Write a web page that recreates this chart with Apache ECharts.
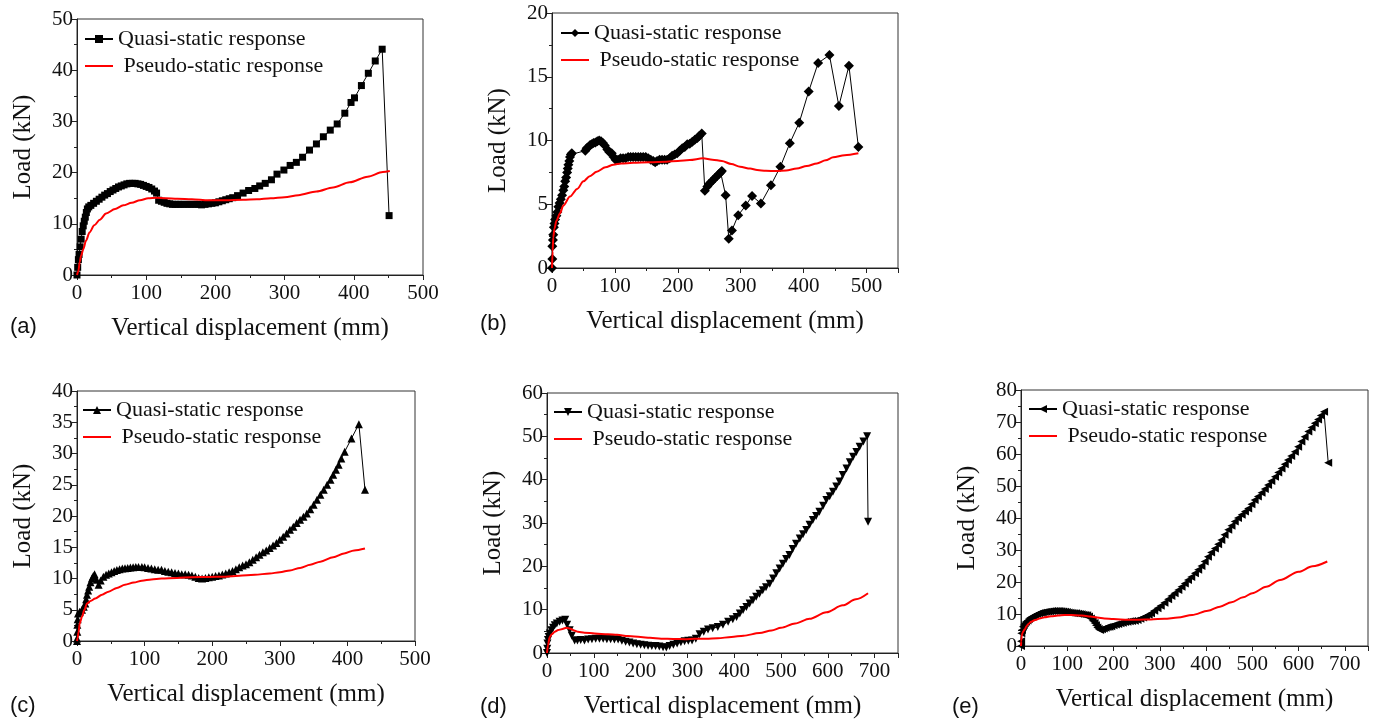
<!DOCTYPE html>
<html><head><meta charset="utf-8">
<script src="https://cdn.jsdelivr.net/npm/echarts@6/dist/echarts.min.js"></script>
<style>html,body{margin:0;padding:0;background:#fff}#c{width:1376px;height:725px}</style>
</head><body><div id="c"></div>
<script>
const QUASI = 'Quasi-static response';
const PSEUDO = 'Pseudo-static response';
const panelLabels = ['(a)', '(b)', '(c)', '(d)', '(e)'];
const xName = 'Vertical displacement (mm)';
const yName = 'Load (kN)';
const xMax = [500, 550, 500, 750, 750];
const yMax = [50, 20, 40, 60, 80];
const yInterval = [10, 5, 5, 10, 10];

const quasiA = [[0,0],[1,1.5],[2,3],[3,4],[4.5,5.5],[6,7],[7.5,8.5],[9,9.6],[10.5,10.5],[12,11.3],[13.5,12.2],[15,12.9],[17,13.3],[20,13.6],[24,14],[28,14.4],[32,14.8],[36,15.2],[40,15.6],[44,15.9],[48,16.3],[52,16.6],[56,16.9],[60,17.2],[64,17.4],[68,17.6],[72,17.8],[76,17.9],[80,17.9],[84,17.9],[88,17.8],[92,17.7],[96,17.5],[100,17.3],[104,17.1],[108,16.8],[112,16.4],[115,16.0],[118,14.6],[122,14.4],[126,14.2],[130,14.0],[134,13.9],[138,13.8],[142,13.8],[146,13.8],[150,13.8],[155,13.8],[160,13.8],[165,13.8],[170,13.8],[175,13.8],[180,13.7],[185,13.8],[190,13.9],[195,14.0],[200,14.1],[205,14.3],[210,14.5],[215,14.7],[220,14.9],[225,15.1],[232,15.5],[240,16.0],[248,16.5],[257,16.9],[264,17.4],[272,17.9],[281,18.6],[289,19.7],[299,20.5],[308,21.4],[317,22.0],[326,23.0],[336,24.4],[346,25.6],[356,27.0],[366,28.3],[376,29.5],[387,31.6],[396,33.7],[401,34.6],[411,37.0],[421,39.4],[431,41.8],[441,44.1],[451,11.6]];
const pseudoA = [[0,0],[2,0.8],[4,2.6],[6,3.8],[9,5],[13,6.7],[18,8.3],[25,9.7],[33,10.8],[42,12],[55,12.9],[67,13.6],[79,14.1],[91,14.6],[103,15.0],[115,15.1],[128,15.0],[145,14.9],[166,14.8],[190,14.6],[214,14.6],[240,14.7],[260,14.8],[280,15.0],[300,15.2],[320,15.6],[346,16.3],[370,17.1],[394,18.1],[420,19.2],[442,20.1],[452,20.3]];

const quasiB = [[0,0],[0.5,0.7],[0.5,1.7],[1.5,2.2],[2,2.6],[3,3.2],[4,3.5],[5,3.8],[7,4.1],[8.5,4.4],[10,4.8],[12,5.1],[14,5.4],[16,5.7],[18,6.1],[19.5,6.4],[21,6.8],[22.5,7.1],[24,7.5],[25,7.8],[26,8.1],[27.5,8.4],[28.6,8.7],[30,8.9],[31.5,9.0],[53,9.2],[55,9.4],[58,9.5],[60.5,9.65],[63,9.7],[66,9.8],[69,9.85],[72,9.95],[75,10],[78,9.95],[81,9.8],[84,9.6],[88,9.3],[91,9.1],[95,9.0],[98,8.7],[101,8.5],[105,8.5],[109,8.6],[113,8.6],[117,8.6],[121,8.7],[125,8.7],[129,8.7],[133,8.7],[137,8.7],[141,8.7],[145,8.7],[149,8.7],[153,8.6],[157,8.5],[161,8.4],[164,8.3],[167,8.4],[171,8.5],[175,8.5],[179,8.5],[183,8.5],[187,8.6],[191,8.8],[195,8.9],[199,9.0],[203,9.2],[207,9.4],[211,9.5],[215,9.7],[219,9.75],[223,9.9],[227,10.05],[231,10.2],[234,10.35],[238,10.55],[243,6.05],[247,6.4],[250,6.6],[253,6.75],[256,6.9],[259,7.05],[262,7.2],[265,7.35],[268,7.5],[270,7.6],[276,5.7],[281,2.3],[286,2.95],[296,4.14],[308,4.9],[318,5.65],[332,5.06],[348,6.5],[363,7.94],[378,9.78],[393,11.4],[408,13.84],[423,16.07],[441,16.7],[456,12.7],[472,15.86],[487,9.5]];
const pseudoB = [[0,0],[1,1.3],[2,2.4],[4,3.1],[7,3.7],[12.7,4.3],[18,4.9],[28.6,5.6],[40,6.2],[50,6.8],[60,7.2],[71,7.55],[85,7.9],[97.6,8.1],[110,8.2],[129,8.25],[155,8.3],[182,8.33],[200,8.4],[219,8.47],[240,8.6],[255,8.5],[270,8.4],[285,8.15],[299,7.94],[315,7.8],[326,7.68],[340,7.63],[357,7.6],[372,7.65],[389,7.8],[405,8.0],[421,8.2],[435,8.45],[447,8.68],[465,8.85],[487,9.0]];

const quasiC = [[0,0],[0,0.4],[0.5,1.5],[0.5,2.6],[1,3.5],[1.5,4.4],[4,4.7],[7.4,5],[10,5.5],[12.3,6],[13.5,6.7],[14.8,7.4],[16.5,8.1],[18,8.7],[20,9.4],[22,10],[24,10.4],[26,10.7],[29,9.8],[32,9],[35,9.7],[39,10.3],[43,10.6],[47,10.8],[51,11.0],[55,11.2],[59,11.35],[63,11.5],[67,11.6],[71,11.65],[75,11.7],[79,11.75],[83,11.8],[87,11.85],[91,11.85],[96,11.85],[100,11.8],[105,11.7],[110,11.6],[115,11.5],[120,11.4],[125,11.4],[130,11.2],[135,11.1],[140,11.0],[145,10.9],[150,10.8],[155,10.7],[160,10.7],[165,10.6],[170,10.5],[175,10.3],[180,10.1],[185,10.0],[190,10.1],[195,10.2],[200,10.3],[205,10.4],[210,10.5],[215,10.65],[220,10.8],[225,11.0],[230,11.2],[235,11.5],[240,11.8],[245,12.1],[250,12.3],[255,12.6],[260,13.0],[265,13.4],[270,13.8],[275,14.2],[280,14.5],[285,14.9],[290,15.3],[295,15.7],[300,16.2],[305,16.7],[310,17.2],[315,17.8],[320,18.3],[325,18.9],[330,19.4],[335,19.9],[340,20.4],[345,21.1],[350,21.8],[355,22.6],[360,23.4],[365,24.2],[370,25.0],[375,25.8],[379,26.6],[383,27.4],[387,28.2],[391,29.2],[396,30.3],[406,32.4],[417,34.7],[426,24.2]];
const pseudoC = [[0,0],[1,0.5],[2.4,1.5],[4,2.8],[7.4,3.9],[11,5],[14.8,6.0],[20,6.4],[27,6.8],[37,7.4],[46.7,7.9],[59,8.5],[71,9.0],[84,9.35],[96,9.65],[110,9.85],[125,10.0],[148,10.1],[170,10.2],[195,10.25],[219,10.3],[240,10.45],[263,10.6],[285,10.8],[300,11.0],[315,11.3],[330,11.7],[345,12.2],[360,12.7],[379,13.4],[395,14.0],[410,14.5],[426,14.8]];

const quasiD = [[0,0],[0.5,1],[1,2.2],[2,3],[3.6,3.7],[6,4.5],[9.4,5.25],[13,5.8],[16.5,6.4],[21,6.8],[27,7.2],[33,7.5],[39,7.7],[43,6.5],[48.5,5.25],[53,4],[59,2.9],[65,2.9],[72,3.0],[80,2.9],[88,3.1],[96,3.2],[104,3.3],[112,3.3],[120,3.3],[128,3.2],[136,3.2],[144,3.1],[152,3.1],[160,2.8],[168,2.6],[176,2.4],[184,2.2],[192,2.0],[200,1.9],[208,1.8],[216,1.7],[224,1.6],[232,1.6],[240,1.5],[248,1.3],[255,1.25],[262,1.6],[270,1.9],[278,2.2],[286,2.5],[294,2.7],[302,2.8],[310,2.9],[318,3.3],[326,4.3],[335,4.9],[344,5.4],[354,5.7],[365,6.0],[376,6.5],[387,7.2],[397,7.8],[405,8.3],[412,9.1],[419,9.9],[426,10.6],[433,11.4],[440,12.2],[447,13],[454,13.7],[461,14.5],[468,15.2],[476,16],[483,17.2],[490,18.4],[497,19.5],[504,20.6],[511,21.7],[518,22.6],[525,24],[532,25.2],[540,26.4],[547,27.4],[554,28.4],[561,29.6],[568,30.7],[575,31.6],[582,32.6],[590,34],[597,35.3],[604,36.2],[611,37.2],[618,38.4],[625,39.6],[632,41.1],[640,42.6],[647,44],[654,45.3],[661,46.4],[668,47.6],[676,48.8],[684,50],[686,30.3]];
const pseudoD = [[0,0],[2,1.8],[5.8,3.7],[10,4.3],[16.5,4.9],[24,5.3],[31,5.5],[41.5,5.8],[50,5.6],[58,5.2],[66,4.9],[80,4.7],[102,4.5],[130,4.3],[150,4.2],[173,3.9],[200,3.7],[220,3.5],[244,3.3],[270,3.25],[295,3.2],[315,3.3],[340,3.3],[365,3.4],[394,3.7],[420,4.0],[454,4.6],[480,5.2],[500,5.8],[530,6.8],[561,7.9],[597,9.4],[632,11.0],[660,12.4],[686,13.8]];

const quasiE = [[0,0],[0.3,1.5],[0.7,4],[2,5],[4,6],[6,6.6],[8,7.1],[11,7.6],[14,8],[17,8.4],[20,8.8],[23,9.1],[27,9.4],[31,9.7],[35,10],[39,10.2],[43,10.4],[47,10.5],[51,10.6],[55,10.7],[59,10.8],[63,10.85],[67,10.9],[71,10.9],[75,10.95],[79,10.95],[83,10.9],[87,10.85],[91,10.8],[95,10.7],[99,10.6],[103,10.5],[107,10.4],[111,10.3],[115,10.2],[119,10.2],[123,10.1],[127,10.0],[131,9.9],[135,9.8],[139,9.7],[143,9.6],[147,9.2],[151,8.6],[155,7.9],[159,7.2],[162,6.5],[165,5.8],[168,5.3],[171,5.0],[175,5.2],[179,5.5],[183,5.7],[187,5.9],[191,6.0],[195,6.2],[200,6.5],[205,6.7],[210,6.9],[215,7.1],[220,7.3],[225,7.5],[230,7.6],[235,7.7],[240,7.8],[246,7.9],[252,8.1],[258,8.5],[264,8.9],[270,9.3],[276,9.8],[281,10.2],[288,11.0],[295,11.8],[302,12.6],[310,13.5],[318,14.6],[325,15.6],[332,16.5],[340,17.5],[347,18.5],[354,19.5],[361,20.6],[368,21.6],[376,22.7],[383,23.8],[390,25],[397,26.4],[404,27.9],[411,29.2],[419,30.5],[426,31.8],[433,33.1],[440,34.8],[448,36.3],[455,37.6],[462,38.9],[469,40],[477,41],[484,42],[491,43],[498,44.3],[505,45.6],[512,46.7],[520,47.9],[527,49.1],[534,50.3],[541,51.6],[549,52.9],[556,54.2],[563,55.5],[570,56.8],[577,58.1],[584,59.4],[592,60.7],[599,62.3],[606,63.9],[613,65.4],[621,67],[628,68.3],[635,69.6],[642,70.8],[648,72],[655,73.2],[664,57.3]];
const pseudoE = [[0,0],[0.5,1.5],[1.5,3],[3,4],[5,4.6],[8,5.2],[12,6.2],[16,6.9],[22,7.6],[30,8.1],[40,8.6],[51,9.0],[65,9.3],[80,9.5],[94,9.65],[110,9.65],[125,9.55],[137,9.45],[150,9.2],[165,8.9],[180,8.6],[200,8.4],[231,8.2],[255,8.2],[281,8.3],[310,8.5],[339,8.9],[370,9.7],[404,11.0],[430,12.3],[455,13.7],[480,15.2],[500,16.5],[530,18.5],[560,20.6],[600,23.2],[630,24.9],[662,26.4]];

const quasiData = [quasiA, quasiB, quasiC, quasiD, quasiE];
const pseudoData = [pseudoA, pseudoB, pseudoC, pseudoD, pseudoE];

// layout
const grids = [
  {left: 77, top: 19, width: 346, height: 256},
  {left: 552, top: 13, width: 346, height: 255},
  {left: 77, top: 391, width: 338, height: 250},
  {left: 547, top: 393, width: 351, height: 260},
  {left: 1021, top: 390, width: 347, height: 256}
];
const legendPos = [[79, 23], [555, 17], [77, 394], [548, 396], [1023, 393]];
const labelPos = [[10, 328], [480, 325], [10, 707], [480, 708], [952, 708]];
const symbols = [['rect', 0, 7], ['diamond', 0, 10], ['triangle', 0, 8], ['triangle', 180, 8], ['triangle', 90, 8]];

const SERIF = '"Liberation Serif", "Times New Roman", serif';
const SANS = '"Liberation Sans", Arial, sans-serif';

const option = {
  animation: false,
  backgroundColor: '#fff',
  grid: grids.map(g => Object.assign({show: true, borderColor: '#333', borderWidth: 1, containLabel: false, outerBoundsMode: 'none'}, g)),
  xAxis: grids.map((g, i) => ({
    gridIndex: i, type: 'value', min: 0, max: xMax[i], interval: 100,
    name: xName, nameLocation: 'middle', nameGap: 41,
    nameTextStyle: {fontFamily: SERIF, fontSize: 25, color: '#111'},
    axisLine: {show: true, onZero: false, lineStyle: {color: '#222', width: 1}},
    axisTick: {show: true, inside: false, length: 5, lineStyle: {color: '#222'}},
    minorTick: {show: true, splitNumber: 2, length: 3, lineStyle: {color: '#222'}},
    splitLine: {show: false},
    axisLabel: {fontFamily: SERIF, fontSize: 21, color: '#111', margin: 8, showMaxLabel: xMax[i] % 100 === 0}
  })),
  yAxis: grids.map((g, i) => ({
    gridIndex: i, type: 'value', min: 0, max: yMax[i], interval: yInterval[i],
    name: yName, nameLocation: 'middle', nameGap: 41, nameRotate: 90,
    nameTextStyle: {fontFamily: SERIF, fontSize: 25, color: '#111'},
    axisLine: {show: true, onZero: false, lineStyle: {color: '#222', width: 1}},
    axisTick: {show: true, inside: false, length: 5, lineStyle: {color: '#222'}},
    minorTick: {show: true, splitNumber: 2, length: 3, lineStyle: {color: '#222'}},
    splitLine: {show: false},
    axisLabel: {fontFamily: SERIF, fontSize: 21, color: '#111', margin: 4}
  })),
  legend: grids.map((g, i) => ({
    orient: 'vertical', left: legendPos[i][0], top: legendPos[i][1],
    itemWidth: 28, itemHeight: 10, itemGap: 5,
    data: ['q' + i, {name: 'p' + i, itemStyle: {color: 'rgba(0,0,0,0)', borderWidth: 0, opacity: 0}}],
    formatter: n => n.charAt(0) === 'q' ? QUASI : ' ' + PSEUDO,
    textStyle: {fontFamily: SERIF, fontSize: 22, color: '#111', lineHeight: 22, padding: [0, 0, 0, 0]},
    selectedMode: false
  })),
  graphic: panelLabels.map((t, i) => ({
    type: 'text', left: labelPos[i][0], top: labelPos[i][1] - 12,
    style: {text: t, font: '22px ' + SANS, fill: '#111'}
  })),
  series: []
};

for (let i = 0; i < 5; i++) {
  option.series.push({
    name: 'q' + i, type: 'line', xAxisIndex: i, yAxisIndex: i,
    data: quasiData[i],
    symbol: symbols[i][0], symbolRotate: symbols[i][1], symbolSize: symbols[i][2],
    itemStyle: {color: '#000'}, lineStyle: {color: '#000', width: 1},
    z: 3
  });
  option.series.push({
    name: 'p' + i, type: 'line', xAxisIndex: i, yAxisIndex: i,
    data: pseudoData[i], showSymbol: false, symbol: 'none',
    smooth: 0.3, smoothMonotone: 'x',
    itemStyle: {color: '#ff0000'}, lineStyle: {color: '#ff0000', width: 2},
    z: 4
  });
}

const chart = echarts.init(document.getElementById('c'), null, {renderer: 'canvas'});
chart.setOption(option);
</script>
</body></html>
